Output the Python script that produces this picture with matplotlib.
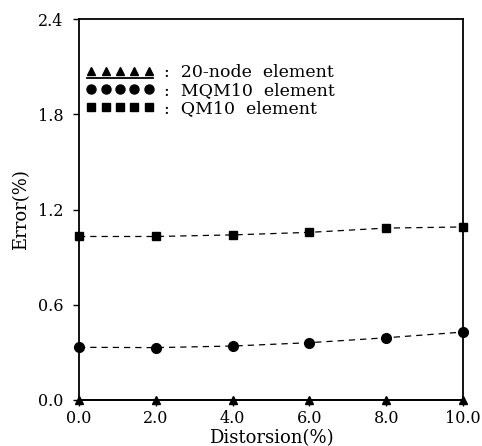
import matplotlib
matplotlib.use("Agg")
import numpy as np
import matplotlib.pyplot as plt
from matplotlib.lines import Line2D
from matplotlib.legend_handler import HandlerLine2D, HandlerTuple

plt.rcParams['font.family'] = ['DejaVu Serif']

distortion = [0.0, 2.0, 4.0, 6.0, 8.0, 10.0]
err_20node = [0.0, 0.0, 0.0, 0.0, 0.0, 0.0]
err_mqm10 = [0.332, 0.330, 0.340, 0.361, 0.392, 0.428]
err_qm10 = [1.03, 1.03, 1.04, 1.056, 1.083, 1.09]

xticks = [0.0, 2.0, 4.0, 6.0, 8.0, 10.0]
yticks = [0.0, 0.6, 1.2, 1.8, 2.4]
labels = [':  20-node  element', ':  MQM10  element', ':  QM10  element']

fig = plt.figure(figsize=(4.82, 4.46), dpi=100)
ax = fig.add_axes([79/482, 46/446, (463-79)/482, (400-19)/446])

ax.plot(distortion, err_20node, color='black', lw=1.2, marker='^', ms=5.5, clip_on=False, zorder=5)
ax.plot(distortion, err_mqm10, color='black', lw=0.9, ls=(0, (5, 4)), marker='o', ms=7, clip_on=False, zorder=5)
ax.plot(distortion, err_qm10, color='black', lw=0.9, ls=(0, (5, 4)), marker='s', ms=6, clip_on=False, zorder=5)

ax.set_xlim(0, 10)
ax.set_ylim(0, 2.4)
ax.set_xticks(xticks)
ax.set_xticklabels([f'{v:.1f}' for v in xticks])
ax.set_yticks(yticks)
ax.set_yticklabels([f'{v:.1f}' for v in yticks])
ax.tick_params(axis='both', direction='out', length=4, width=1, labelsize=11.5)
ax.tick_params(axis='y', pad=7)
ax.tick_params(axis='x', pad=3)
for s in ax.spines.values():
    s.set_linewidth(1.3)

ax.set_xlabel('Distorsion(%)', fontsize=13, labelpad=2)
ax.set_ylabel('Error(%)', fontsize=13, labelpad=6)


class HandlerUnderline(HandlerLine2D):
    def create_artists(self, legend, orig_handle, xdescent, ydescent,
                       width, height, fontsize, trans):
        arts = super().create_artists(legend, orig_handle, xdescent, ydescent,
                                      width, height, fontsize, trans)
        for a in arts:
            yd = np.asarray(a.get_ydata(), dtype=float)
            xd = np.asarray(a.get_xdata(), dtype=float)
            a.set_xdata(np.array([xd[0] - 0.25 * fontsize, xd[-1] + 0.25 * fontsize]))
            a.set_ydata(np.array([yd[0], yd[-1]]) - 0.42 * fontsize)
        return arts


tri_marks = Line2D([], [], color='black', lw=0, marker='^', ms=5.5)
tri_line = Line2D([], [], color='black', lw=1.3)
circ = Line2D([], [], color='black', lw=0, marker='o', ms=6.5)
sq = Line2D([], [], color='black', lw=0, marker='s', ms=5.5)

ax.legend([(tri_marks, tri_line), circ, sq], labels,
          handler_map={tuple: HandlerTuple(ndivide=1, pad=0),
                       tri_line: HandlerUnderline()},
          loc='upper left', bbox_to_anchor=(86/482, 1 - 64/446),
          bbox_transform=fig.transFigure,
          numpoints=5, handlelength=3.9, handletextpad=0.6, labelspacing=0.05,
          frameon=False, fontsize=12.5, borderaxespad=0, borderpad=0)

fig.savefig('out.png', dpi=100)
